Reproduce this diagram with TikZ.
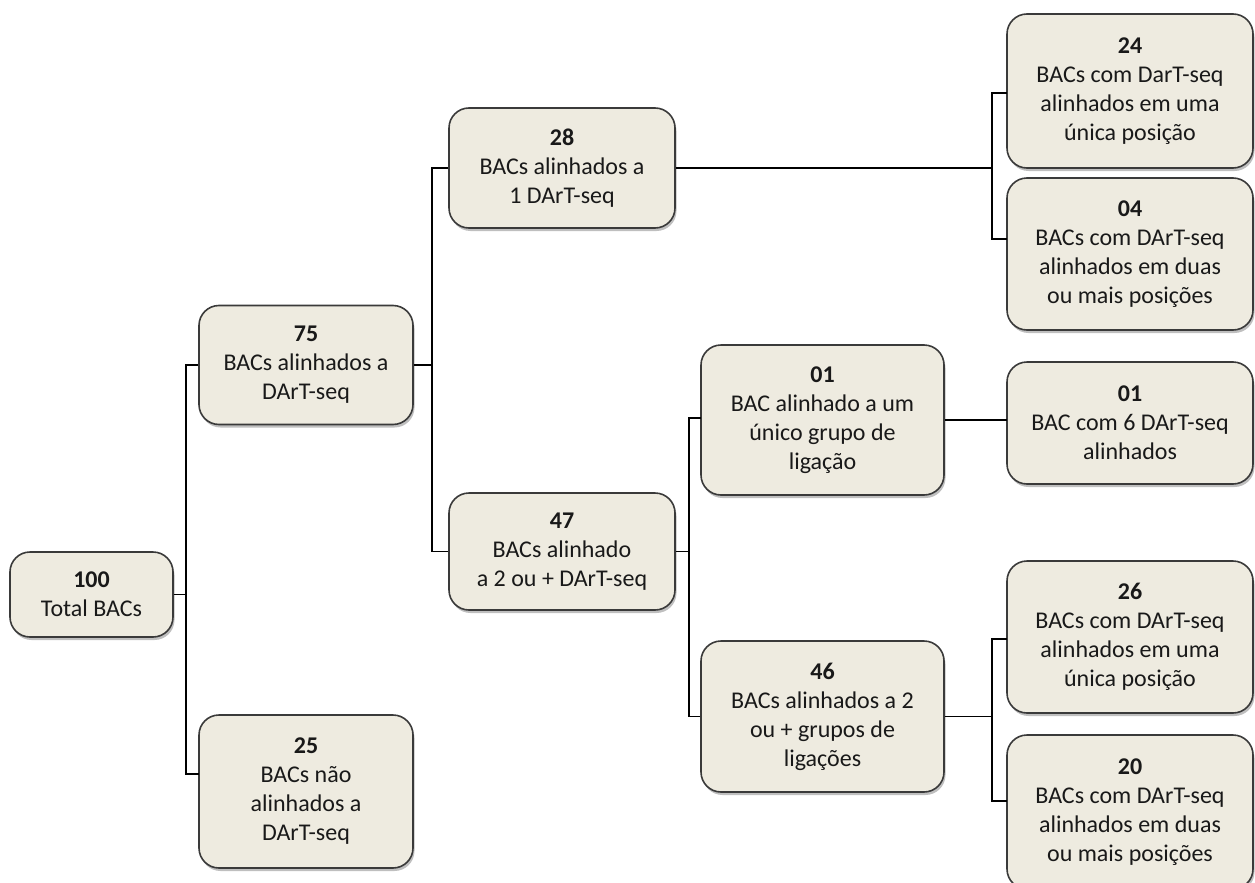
\documentclass[tikz,border=0pt]{standalone}
\usepackage{fontspec}
\setmainfont{Carlito}
\usetikzlibrary{shadows}
\definecolor{boxfill}{HTML}{EEEBE0}
\definecolor{boxline}{HTML}{3A3A3A}
\begin{document}
\begin{tikzpicture}[x=1pt,y=-1pt,
  box/.style={draw=boxline, line width=1.6pt, rounded corners=20pt, fill=boxfill,
    align=center, inner sep=0pt, text=black!90,
    font=\fontsize{24}{29}\selectfont,
    drop shadow={shadow xshift=1.5pt, shadow yshift=-3pt, opacity=0.25, fill=black}},
  link/.style={draw=black, line width=1.3pt}]
\fill[white] (0,0) rectangle (1255,883);
\useasboundingbox (0,0) rectangle (1255,883);

% level 0
\node[box, minimum width=163, minimum height=85] (A) at (91.5,594.5)
  {\textbf{100}\\Total BACs};
% level 1
\node[box, minimum width=214, minimum height=119] (B) at (306,365)
  {\textbf{75}\\BACs alinhados a\\DArT-seq};
\node[box, minimum width=214, minimum height=153] (C) at (306,791.5)
  {\textbf{25}\\BACs não\\alinhados a\\DArT-seq};
% level 2
\node[box, minimum width=226, minimum height=120] (D) at (562,168)
  {\textbf{28}\\BACs alinhados a\\1 DArT-seq};
\node[box, minimum width=226, minimum height=117] (E) at (562,551.5)
  {\textbf{47}\\BACs alinhado\\a 2 ou + DArT-seq};
% level 3
\node[box, minimum width=243, minimum height=150] (F) at (822.5,420)
  {\textbf{01}\\BAC alinhado a um\\único grupo de\\ligação};
\node[box, minimum width=243, minimum height=151] (G) at (822.5,716.5)
  {\textbf{46}\\BACs alinhados a 2\\ou + grupos de\\ligações};
% level 4
\node[box, minimum width=246, minimum height=154] (H) at (1130,91)
  {\textbf{24}\\BACs com DarT-seq\\alinhados em uma\\única posição};
\node[box, minimum width=246, minimum height=152] (I) at (1130,254)
  {\textbf{04}\\BACs com DArT-seq\\alinhados em duas\\ou mais posições};
\node[box, minimum width=246, minimum height=122] (J) at (1130,423)
  {\textbf{01}\\BAC com 6 DArT-seq\\alinhados};
\node[box, minimum width=246, minimum height=152] (K) at (1130,637)
  {\textbf{26}\\BACs com DArT-seq\\alinhados em uma\\única posição};
\node[box, minimum width=246, minimum height=154] (L) at (1130,812)
  {\textbf{20}\\BACs com DArT-seq\\alinhados em duas\\ou mais posições};

% junction points of the bracket connectors
\coordinate (jA) at (186,594.5);
\coordinate (jB) at (432,365);
\coordinate (jD) at (992,168);
\coordinate (jE) at (689,551.5);
\coordinate (jG) at (992,716.5);
\coordinate (tC) at (199,774);
\coordinate (tH) at (1007,93);
\coordinate (tI) at (1007,239);
\coordinate (tF) at (701,418);
\coordinate (tJ) at (1007,420);
\coordinate (tK) at (1007,639);
\coordinate (tL) at (1007,801);

\draw[link] (A.east) -- (jA);
\draw[link] (B.west) -| (jA) |- (tC);
\draw[link] (B.east) -- (jB);
\draw[link] (D.west) -| (jB) |- (E.west);
\draw[link] (D.east) -- (jD);
\draw[link] (tH) -| (jD) |- (tI);
\draw[link] (E.east) -- (jE);
\draw[link] (tF) -| (jE) |- (G.west);
\draw[link] (F.east) -- (tJ);
\draw[link] (G.east) -- (jG);
\draw[link] (tK) -| (jG) |- (tL);
\end{tikzpicture}
\end{document}
